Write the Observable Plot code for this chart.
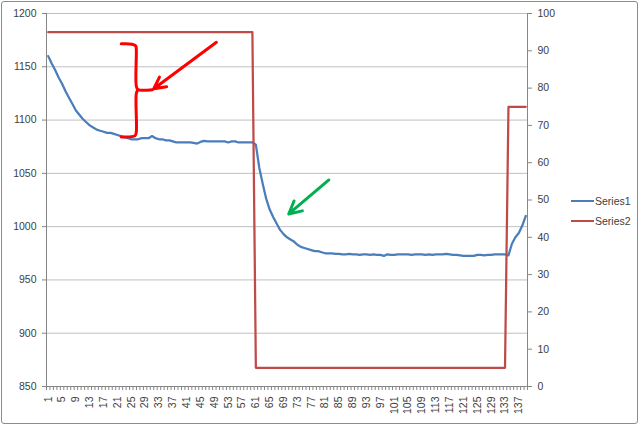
<!DOCTYPE html>
<html>
<head>
<meta charset="utf-8">
<script src="https://cdn.jsdelivr.net/npm/d3@7"></script>
<script src="https://cdn.jsdelivr.net/npm/@observablehq/plot@0.6"></script>
<style>
  html, body { margin: 0; padding: 0; background: #fff; }
  #wrap { position: relative; width: 640px; height: 426px; overflow: hidden; font-family: "Liberation Sans", Arial, sans-serif; }
  #border { position: absolute; left: 1px; top: 1px; width: 635px; height: 421px; border: 1.5px solid #8c8c8c; border-radius: 3px; pointer-events: none; }
  .leg { position: absolute; left: 571px; font-size: 10.5px; color: #404040; display: flex; align-items: center; }
  .leg span.sw { display: inline-block; width: 23px; height: 2.5px; margin-right: 1px; }
</style>
</head>
<body>
<div id="wrap">
  <div id="chart"></div>
  <div class="leg" style="top:195px"><span class="sw" style="background:#4a7ebb"></span>Series1</div>
  <div class="leg" style="top:215px"><span class="sw" style="background:#be4b48"></span>Series2</div>
  <div id="border"></div>
</div>
<script>
// ---- data ----
const seriesNames = ["Series1", "Series2"];
const xTickLabels = [1,5,9,13,17,21,25,29,33,37,41,45,49,53,57,61,65,69,73,77,81,85,89,93,97,101,105,109,113,117,121,125,129,133,137];
const leftTicks = [850, 900, 950, 1000, 1050, 1100, 1150, 1200];
const rightTicks = [0, 10, 20, 30, 40, 50, 60, 70, 80, 90, 100];

const series1 = [
  1160,1153,1147,1140,1134,1127,1121,1115,1109,1105,
  1101,1098,1095,1093,1091,1090,1089,1088,1088,1087,
  1086,1085,1084,1083,1082,1082,1082,1083,1083,1083,
  1085,1083,1082,1082,1081,1081,1080,1079,1079,1079,
  1079,1079,1078.5,1078,1079.5,1080.5,1080,1080,1080,1080,
  1080,1080,1079,1080,1080,1079,1079,1079,1079,1079,
  1077,1055,1040,1026,1016,1009,1003,997,993,990,
  988,986,983,981,980,979,978,977,977,976,
  975,975,975,974.5,974.5,974,974,974.5,974,974,
  973.5,974,974,973.5,974,973.5,973.5,972.5,974,973.5,
  973.5,974,974,974,974,973.5,974,974,974,973.5,
  974,973.5,974,974,974,974.5,974,973.5,973.5,973,
  972.5,972.5,972.5,972.5,973.5,973.5,973,973.5,973.5,974,
  974,974,974,973,984,990,994,1001,1010
];
const series2 = [
  95,95,95,95,95,95,95,95,95,95,
  95,95,95,95,95,95,95,95,95,95,
  95,95,95,95,95,95,95,95,95,95,
  95,95,95,95,95,95,95,95,95,95,
  95,95,95,95,95,95,95,95,95,95,
  95,95,95,95,95,95,95,95,95,95,
  5,5,5,5,5,5,5,5,5,5,
  5,5,5,5,5,5,5,5,5,5,
  5,5,5,5,5,5,5,5,5,5,
  5,5,5,5,5,5,5,5,5,5,
  5,5,5,5,5,5,5,5,5,5,
  5,5,5,5,5,5,5,5,5,5,
  5,5,5,5,5,5,5,5,5,5,
  5,5,5,75,75,75,75,75,75
];

// annotation sketches (category, left-axis value)
const bracketUpper = [[22.1,1171.5],[25.2,1171.2],[26.3,1169.5],[26.45,1166],[26.45,1132],[26.9,1128.7],[31.1,1128.5]];
const bracketLower = [[26.9,1128.4],[26.45,1125],[26.45,1089],[26.1,1085.4],[22.1,1084.2]];
const redArrow = [{x1: 49.6, y1: 1173, x2: 31.5, y2: 1129.4}];
const greenArrow = [{x1: 82.1, y1: 1043.8, x2: 70.5, y2: 1011.9}];

// ---- build tables ----
const n = series1.length;
const categories = series1.map((_, i) => i + 1);
const data1 = categories.map((c, i) => ({cat: c, value: series1[i]}));
// secondary axis 0..100 is mapped onto primary 850..1200
const sec = v => 850 + v * 3.5;
const data2 = categories.map((c, i) => ({cat: c, value: sec(series2[i])}));
const boundaries = d3.range(0.5, n + 1, 1);
const bracket = [
  ...bracketUpper.map(([x, y]) => ({x, y, part: "a"})),
  ...bracketLower.map(([x, y]) => ({x, y, part: "b"}))
];

const chart = Plot.plot({
  width: 640,
  height: 426,
  marginLeft: 46,
  marginRight: 113,
  marginTop: 13,
  marginBottom: 40,
  x: {type: "linear", domain: [0.5, n + 0.5]},
  y: {domain: [850, 1200]},
  style: {fontFamily: "Liberation Sans, Arial, sans-serif", fontSize: "10.5px", color: "#404040", background: "transparent"},
  marks: [
    Plot.gridY(leftTicks.filter(d => d > 850), {stroke: "#c0c0c0", strokeOpacity: 1, strokeWidth: 1}),
    Plot.ruleX([0.5, n + 0.5], {stroke: "#868686"}),
    Plot.ruleY([850], {stroke: "#868686"}),
    Plot.axisY(leftTicks, {anchor: "left", tickSize: 4, tickPadding: 6, stroke: "#868686", fill: "#404040", tickFormat: d => String(d), label: null}),
    Plot.axisY(rightTicks.map(sec), {anchor: "right", tickSize: 4, tickPadding: 6, stroke: "#868686", fill: "#404040", tickFormat: d => String(Math.round((d - 850) / 3.5)), label: null}),
    Plot.axisX(boundaries, {anchor: "bottom", tickSize: 4, stroke: "#868686", tickFormat: () => "", label: null}),
    Plot.axisX(xTickLabels, {anchor: "bottom", tickSize: 0, tickPadding: 10, tickRotate: -90, fill: "#404040", tickFormat: d => String(d), label: null}),
    Plot.line(data1, {x: "cat", y: "value", stroke: "#4a7ebb", strokeWidth: 2.25}),
    Plot.line(data2, {x: "cat", y: "value", stroke: "#be4b48", strokeWidth: 2.25}),
    Plot.line(bracket, {x: "x", y: "y", z: "part", stroke: "#ff0000", strokeWidth: 3, strokeLinejoin: "round", strokeLinecap: "round", curve: "catmull-rom"}),
    Plot.arrow(redArrow, {x1: "x1", y1: "y1", x2: "x2", y2: "y2", stroke: "#ff0000", strokeWidth: 3, headLength: 6.5, headAngle: 55}),
    Plot.arrow(greenArrow, {x1: "x1", y1: "y1", x2: "x2", y2: "y2", stroke: "#00b050", strokeWidth: 3, headLength: 7, headAngle: 55})
  ]
});
document.getElementById("chart").appendChild(chart);
</script>
</body>
</html>
